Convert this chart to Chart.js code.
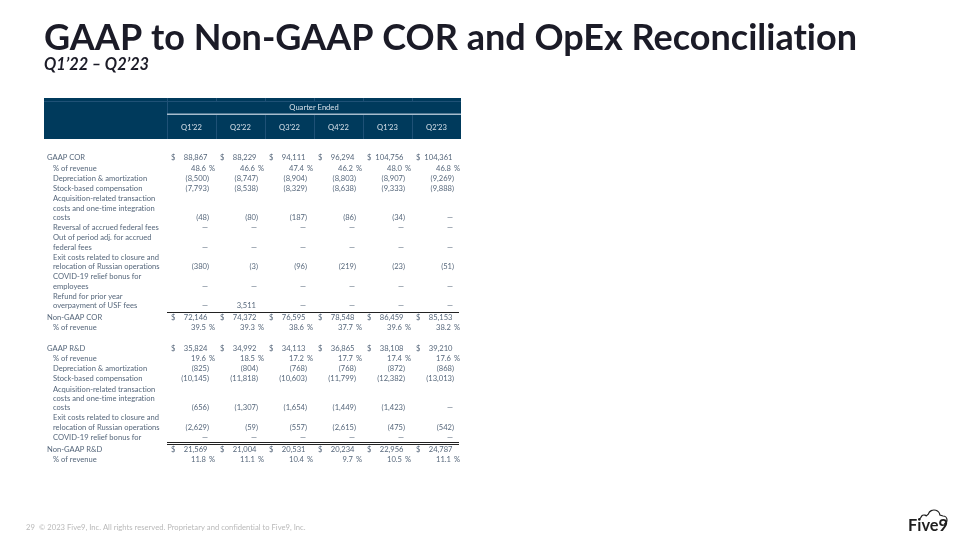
<!DOCTYPE html>
<html><head><meta charset="utf-8">
<script src="https://cdn.jsdelivr.net/npm/chart.js@4.4.0/dist/chart.umd.min.js"></script>
<style>html,body{margin:0;padding:0;background:#fff}canvas{display:block}</style>
</head><body><canvas id="c" width="960" height="540"></canvas>
<script>
// ---------- data ----------
const quarters = ["Q1'22", "Q2'22", "Q3'22", "Q4'22", "Q1'23", "Q2'23"];

const corGaap        = [88867, 88229, 94111, 96294, 104756, 104361];
const corGaapPct     = [48.6, 46.6, 47.4, 46.2, 48.0, 46.8];
const corDA          = [-8500, -8747, -8904, -8803, -8907, -9269];
const corSBC         = [-7793, -8538, -8329, -8638, -9333, -9888];
const corAcq         = [-48, -80, -187, -86, -34, 0];
const corReversal    = [0, 0, 0, 0, 0, 0];
const corOutOfPeriod = [0, 0, 0, 0, 0, 0];
const corExit        = [-380, -3, -96, -219, -23, -51];
const corCovid       = [0, 0, 0, 0, 0, 0];
const corRefund      = [0, 3511, 0, 0, 0, 0];
const corNonGaap     = [72146, 74372, 76595, 78548, 86459, 85153];
const corNonGaapPct  = [39.5, 39.3, 38.6, 37.7, 39.6, 38.2];

const rdGaap         = [35824, 34992, 34113, 36865, 38108, 39210];
const rdGaapPct      = [19.6, 18.5, 17.2, 17.7, 17.4, 17.6];
const rdDA           = [-825, -804, -768, -768, -872, -868];
const rdSBC          = [-10145, -11818, -10603, -11799, -12382, -13013];
const rdAcq          = [-656, -1307, -1654, -1449, -1423, 0];
const rdExit         = [-2629, -59, -557, -2615, -475, -542];
const rdCovid        = [0, 0, 0, 0, 0, 0];
const rdNonGaap      = [21569, 21004, 20531, 20234, 22956, 24787];
const rdNonGaapPct   = [11.8, 11.1, 10.4, 9.7, 10.5, 11.1];

const titleText = 'GAAP to Non-GAAP COR and OpEx Reconciliation';
const subtitleText = 'Q1\u201922 \u2013 Q2\u201923';
const headerText = 'Quarter Ended';
const footerText = '\u00A9 2023 Five9, Inc. All rights reserved. Proprietary and confidential to Five9, Inc.';
const pageNumber = '29';

// ---------- table structure ----------
const rows = [
  {label: ['GAAP COR'], values: corGaap, fmt: 'dollar', main: true},
  {label: ['% of revenue'], values: corGaapPct, fmt: 'pct'},
  {label: ['Depreciation & amortization'], values: corDA},
  {label: ['Stock-based compensation'], values: corSBC},
  {label: ['Acquisition-related transaction', 'costs and one-time integration', 'costs'], values: corAcq},
  {label: ['Reversal of accrued federal fees'], values: corReversal},
  {label: ['Out of period adj. for accrued', 'federal fees'], values: corOutOfPeriod},
  {label: ['Exit costs related to closure and', 'relocation of Russian operations'], values: corExit},
  {label: ['COVID-19 relief bonus for', 'employees'], values: corCovid},
  {label: ['Refund for prior year', 'overpayment of USF fees'], values: corRefund, rule: 'single'},
  {label: ['Non-GAAP COR'], values: corNonGaap, fmt: 'dollar', main: true},
  {label: ['% of revenue'], values: corNonGaapPct, fmt: 'pct'},
  {blank: true},
  {label: ['GAAP R&D'], values: rdGaap, fmt: 'dollar', main: true},
  {label: ['% of revenue'], values: rdGaapPct, fmt: 'pct'},
  {label: ['Depreciation & amortization'], values: rdDA},
  {label: ['Stock-based compensation'], values: rdSBC},
  {label: ['Acquisition-related transaction', 'costs and one-time integration', 'costs'], values: rdAcq},
  {label: ['Exit costs related to closure and', 'relocation of Russian operations'], values: rdExit},
  {label: ['COVID-19 relief bonus for'], values: rdCovid, rule: 'double'},
  {label: ['Non-GAAP R&D'], values: rdNonGaap, fmt: 'dollar', main: true},
  {label: ['% of revenue'], values: rdNonGaapPct, fmt: 'pct'}
];

// vertical position of rows in "line" units (derived from label line counts)
let cursor = 0;
rows.forEach(r => {
  const n = r.blank ? 1 : r.label.length;
  r.yStart = cursor;
  r.yValue = cursor + (n - 1);
  const step = r.rule ? 1.25 : 1.1;
  r.yRule = r.yValue + step / 2;
  cursor = r.yValue + step;
});

const datasets = rows.filter(r => !r.blank).map(r => ({
  label: r.label.join(' '),
  data: quarters.map((q, i) => ({x: q, y: r.yValue, v: r.values[i]})),
  pointRadius: 0,
  showLine: false,
  rowInfo: r
}));

// ---------- style ----------
const TEXT = '#56677b';
const NAVY = '#003a5c';
const FONT = 'Lato, "Open Sans", sans-serif';

function fitFont(ctx, weight, text, width) {
  ctx.font = weight + ' 100px ' + FONT;
  const w = ctx.measureText(text).width;
  return 100 * width / w;
}

const tablePlugin = {
  id: 'tablePlugin',
  afterDraw(chart) {
    const ctx = chart.ctx;
    const xs = chart.scales.x, ys = chart.scales.y;
    const area = chart.chartArea;
    const colW = (area.right - area.left) / quarters.length;
    ctx.save();
    try { ctx.textRendering = 'optimizeSpeed'; } catch (e) {}
    try { ctx.letterSpacing = '0.01px'; } catch (e) {}

    // title
    let fs = fitFont(ctx, 'bold', titleText, 813);
    ctx.font = 'bold ' + fs + 'px ' + FONT;
    ctx.fillStyle = '#1b1b27';
    ctx.textBaseline = 'alphabetic';
    ctx.textAlign = 'left';
    ctx.fillText(titleText, 44, 50);
    fs = fitFont(ctx, 'italic bold', subtitleText, 105);
    ctx.font = 'italic bold ' + fs + 'px ' + FONT;
    ctx.fillText(subtitleText, 44, 70);

    // header band
    const hx0 = 44, hy0 = 98, hy1 = 139;
    ctx.fillStyle = NAVY;
    ctx.fillRect(hx0, hy0, area.right - hx0, hy1 - hy0);
    ctx.strokeStyle = '#1f5176';
    ctx.lineWidth = 1;
    ctx.beginPath();
    ctx.moveTo(hx0, 101.5); ctx.lineTo(area.right, 101.5);
    ctx.stroke();
    ctx.beginPath();
    ctx.moveTo(area.left + 0.5, hy0); ctx.lineTo(area.left + 0.5, hy1);
    for (let i = 1; i < quarters.length; i++) {
      const bx = Math.round(xs.getPixelForValue(i) - colW / 2) + 0.5;
      ctx.moveTo(bx, hy0); ctx.lineTo(bx, 101.5);
      ctx.moveTo(bx, 115); ctx.lineTo(bx, hy1);
    }
    ctx.stroke();
    ctx.strokeStyle = '#a7bccd';
    ctx.lineWidth = 1.5;
    ctx.beginPath();
    ctx.moveTo(area.left, 114.2); ctx.lineTo(area.right, 114.2);
    ctx.stroke();

    const tfs = fitFont(ctx, 'normal', 'Depreciation & amortization', 94);
    const tfont = tfs + 'px ' + FONT;
    ctx.font = tfont;
    ctx.fillStyle = '#d6e0e9';
    ctx.textAlign = 'center';
    ctx.textBaseline = 'middle';
    ctx.fillText(headerText, (area.left + area.right) / 2, 107.5);
    quarters.forEach((q, i) => ctx.fillText(q, xs.getPixelForValue(i), 128));

    // labels and values
    ctx.fillStyle = TEXT;
    chart.data.datasets.forEach((ds, di) => {
      const r = ds.rowInfo;
      ctx.textAlign = 'left';
      r.label.forEach((line, li) => {
        ctx.fillText(line, r.main ? 47 : 53, ys.getPixelForValue(r.yStart + li));
      });
      const meta = chart.getDatasetMeta(di);
      meta.data.forEach((pt, i) => {
        const v = ds.data[i].v;
        const cx = pt.x, cy = pt.y;
        const left = cx - colW / 2, right = cx + colW / 2;
        if (r.fmt === 'dollar') {
          ctx.textAlign = 'left';
          ctx.fillText('$', left + 4, cy);
          ctx.textAlign = 'right';
          ctx.fillText(v.toLocaleString('en-US'), right - 8.5, cy);
        } else if (r.fmt === 'pct') {
          ctx.textAlign = 'right';
          ctx.fillText(v.toFixed(1), right - 10, cy);
          ctx.fillText('%', right - 1, cy);
        } else if (v === 0) {
          ctx.textAlign = 'right';
          ctx.fillText('\u2014', right - 8, cy);
        } else if (v < 0) {
          ctx.textAlign = 'right';
          ctx.fillText('(' + Math.abs(v).toLocaleString('en-US'), right - 9, cy);
          ctx.textAlign = 'left';
          ctx.fillText(')', right - 9, cy);
        } else {
          ctx.textAlign = 'right';
          ctx.fillText(v.toLocaleString('en-US'), right - 9, cy);
        }
      });
      if (r.rule) {
        const ry = Math.round(ys.getPixelForValue(r.yRule));
        ctx.strokeStyle = '#222';
        ctx.lineWidth = 1;
        ctx.beginPath();
        if (r.rule === 'single') {
          ctx.moveTo(area.left, ry + 0.5); ctx.lineTo(area.right - 2, ry + 0.5);
        } else {
          ctx.moveTo(area.left, ry - 0.5); ctx.lineTo(area.right - 2, ry - 0.5);
          ctx.moveTo(area.left, ry + 1.5); ctx.lineTo(area.right - 2, ry + 1.5);
        }
        ctx.stroke();
      }
    });

    // footer
    ctx.fillStyle = '#b9b9b9';
    ctx.textBaseline = 'alphabetic';
    ctx.textAlign = 'left';
    const ffs = fitFont(ctx, 'normal', footerText, 266);
    ctx.font = ffs + 'px ' + FONT;
    ctx.fillText(pageNumber, 26, 530);
    ctx.fillText(footerText, 39, 530);

    // logo
    ctx.fillStyle = '#1e1e1e';
    const lfs = fitFont(ctx, 'bold', 'Five9', 40);
    ctx.font = 'bold ' + lfs + 'px ' + FONT;
    ctx.fillText('Five9', 908, 531);
    ctx.strokeStyle = '#1e1e1e';
    ctx.lineWidth = 1.2;
    ctx.beginPath();
    ctx.moveTo(919, 520);
    ctx.arc(924, 518, 3, Math.PI * 1.1, Math.PI * 1.75);
    ctx.arc(934, 516, 6, Math.PI * 1.1, Math.PI * 1.95);
    ctx.arc(943, 520, 4, Math.PI * 1.5, Math.PI * 0.4);
    ctx.stroke();

    ctx.restore();
  }
};

const UNIT = 9.3;
const yMin = -1, yMax = 34;
const topPad = 158 - UNIT;
const bottomPad = 540 - (topPad + (yMax - yMin) * UNIT);

new Chart(document.getElementById('c'), {
  type: 'scatter',
  data: {datasets},
  options: {
    responsive: false,
    animation: false,
    devicePixelRatio: 1,
    layout: {padding: {left: 167, right: 960 - 461, top: topPad, bottom: bottomPad}},
    plugins: {legend: {display: false}, tooltip: {enabled: false}},
    scales: {
      x: {type: 'category', labels: quarters, offset: true, display: false},
      y: {type: 'linear', reverse: true, min: yMin, max: yMax, display: false}
    }
  },
  plugins: [tablePlugin]
});
</script>
</body></html>
